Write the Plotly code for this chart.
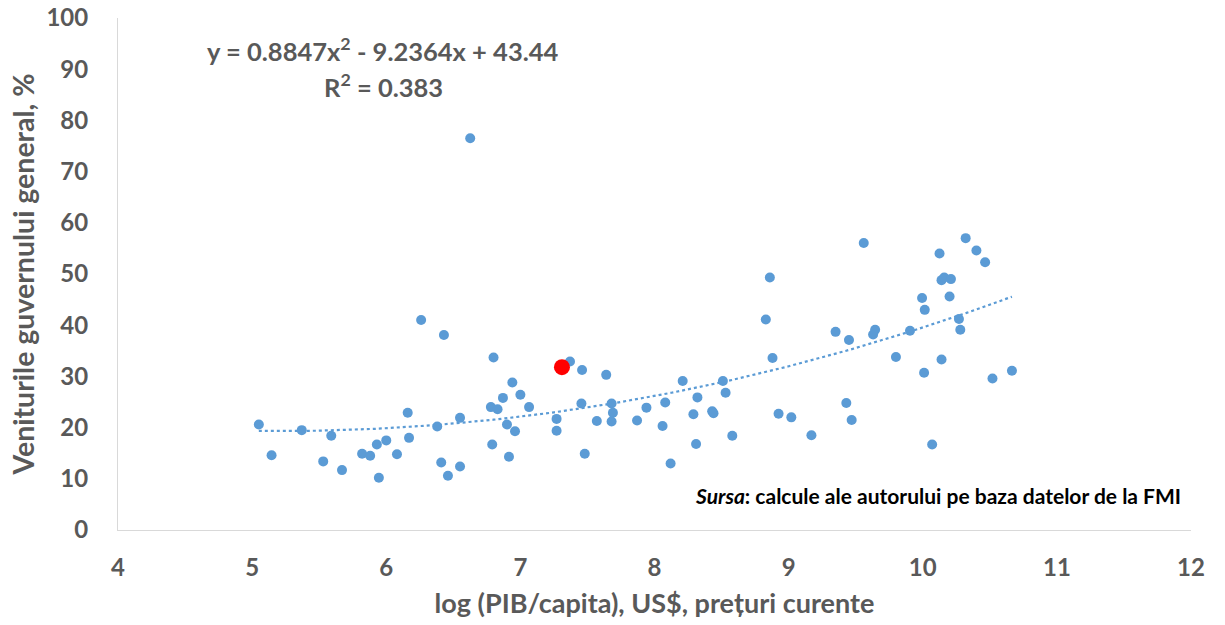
import numpy as np
import plotly.graph_objects as go

# Data
log_gdp = [5.05, 5.145, 5.37, 5.53, 5.59, 5.67, 5.82, 5.88, 5.93, 5.945,
           6.00, 6.08, 6.16, 6.17, 6.26, 6.38, 6.41, 6.43, 6.46, 6.55,
           6.55, 6.626, 6.80, 6.78, 6.83, 6.87, 6.94, 7.00, 7.065, 6.90,
           6.96, 6.79, 6.915, 7.27, 7.27, 7.37, 7.46, 7.64, 7.455, 7.48,
           7.57, 7.68, 7.69, 7.68, 7.87, 7.94, 8.08, 8.06, 8.12, 8.21,
           8.32, 8.29, 8.31, 8.43, 8.44, 8.51, 8.53, 8.58, 8.83, 8.86,
           8.88, 8.925, 9.02, 9.17, 9.35, 9.45, 9.43, 9.47, 9.56, 9.645,
           9.63, 9.80, 9.905, 9.995, 10.015, 10.01, 10.07, 10.125, 10.14, 10.14,
           10.16, 10.21, 10.20, 10.27, 10.28, 10.32, 10.40, 10.465, 10.52, 10.665]
revenue = [20.6, 14.6, 19.5, 13.4, 18.4, 11.7, 14.9, 14.5, 16.7, 10.2,
           17.5, 14.8, 22.9, 18.0, 41.0, 20.2, 13.2, 38.1, 10.6, 21.9,
           12.4, 76.5, 33.7, 24.0, 23.6, 25.8, 28.8, 26.4, 24.0, 20.6,
           19.3, 16.7, 14.3, 21.7, 19.4, 32.9, 31.25, 30.3, 24.7, 14.9,
           21.3, 24.7, 22.9, 21.2, 21.4, 23.9, 24.9, 20.3, 13.0, 29.1,
           25.9, 22.6, 16.8, 23.2, 22.8, 29.1, 26.8, 18.4, 41.1, 49.3,
           33.6, 22.7, 22.0, 18.5, 38.7, 37.1, 24.8, 21.5, 56.05, 39.1,
           38.2, 33.8, 38.9, 45.3, 43.0, 30.7, 16.7, 54.0, 33.3, 48.8,
           49.3, 49.0, 45.6, 41.2, 39.1, 57.0, 54.6, 52.3, 29.6, 31.1]

highlight_x = [7.31]
highlight_y = [31.8]

# Trendline coefficients as printed on the chart (a*x^2 + b*x + c)
trend_coef = [0.8847, -9.2364, 43.44]
equation_text = "y = 0.8847x<sup>2</sup> - 9.2364x + 43.44"
r2_text = "R<sup>2</sup> = 0.383"

x_ticks = [4, 5, 6, 7, 8, 9, 10, 11, 12]
y_ticks = [0, 10, 20, 30, 40, 50, 60, 70, 80, 90, 100]

FONT = "Lato"
GRAY = "#595959"
BLUE = "#5B9BD5"

tx = np.linspace(min(log_gdp), max(log_gdp), 200)
ty = np.polyval(trend_coef, tx)

fig = go.Figure()
fig.add_trace(go.Scatter(
    x=tx, y=ty, mode="lines",
    line=dict(color=BLUE, width=2.2, dash="dot"),
    showlegend=False, hoverinfo="skip"))
fig.add_trace(go.Scatter(
    x=log_gdp, y=revenue, mode="markers",
    marker=dict(color=BLUE, size=10, line=dict(width=0)),
    showlegend=False))
fig.add_trace(go.Scatter(
    x=highlight_x, y=highlight_y, mode="markers",
    marker=dict(color="#FF0000", size=16, line=dict(width=0)),
    showlegend=False))

fig.update_layout(
    width=1225, height=625,
    margin=dict(l=118, r=34, t=18, b=95),
    paper_bgcolor="white", plot_bgcolor="white",
    font=dict(family=FONT, color=GRAY),
    xaxis=dict(
        range=[4, 12], tickvals=x_ticks, showgrid=False, zeroline=False,
        automargin=False, ticklabeloverflow="allow",
        showline=True, linecolor="#D9D9D9", linewidth=1,
        ticks="outside", ticklen=16, tickcolor="rgba(0,0,0,0)",
        tickfont=dict(family=FONT, size=24, color=GRAY, weight="bold"),
        title=dict(text="log (PIB/capita), US$, prețuri curente",
                   font=dict(family=FONT, size=27, color=GRAY, weight="bold"),
                   standoff=14),
    ),
    yaxis=dict(
        range=[0, 100], tickvals=y_ticks, showgrid=False, zeroline=False,
        automargin=False, ticklabeloverflow="allow",
        showline=True, linecolor="#D9D9D9", linewidth=1,
        ticks="outside", ticklen=24, tickcolor="rgba(0,0,0,0)",
        tickfont=dict(family=FONT, size=24, color=GRAY, weight="bold"),
        title=dict(text="Veniturile guvernului general, %",
                   font=dict(family=FONT, size=28.5, color=GRAY, weight="bold"),
                   standoff=3),
    ),
    annotations=[
        dict(x=0.247, y=0.94, xref="paper", yref="paper", showarrow=False,
             text=equation_text, xanchor="center", yanchor="middle",
             font=dict(family=FONT, size=25.5, color=GRAY, weight="bold")),
        dict(x=0.247, y=0.869, xref="paper", yref="paper", showarrow=False,
             text=r2_text, xanchor="center", yanchor="middle",
             font=dict(family=FONT, size=25.5, color=GRAY, weight="bold")),
        dict(x=0.9925, y=0.068, xref="paper", yref="paper", showarrow=False,
             text="<i>Sursa</i>: calcule ale autorului pe baza datelor de la FMI",
             xanchor="right", yanchor="middle",
             font=dict(family=FONT, size=21, color="#000000", weight="bold")),
    ],
)

fig.write_html(
    "out.html",
    config={"displayModeBar": False},
    post_script="document.body.style.margin='0';document.body.style.overflow='hidden';",
)
